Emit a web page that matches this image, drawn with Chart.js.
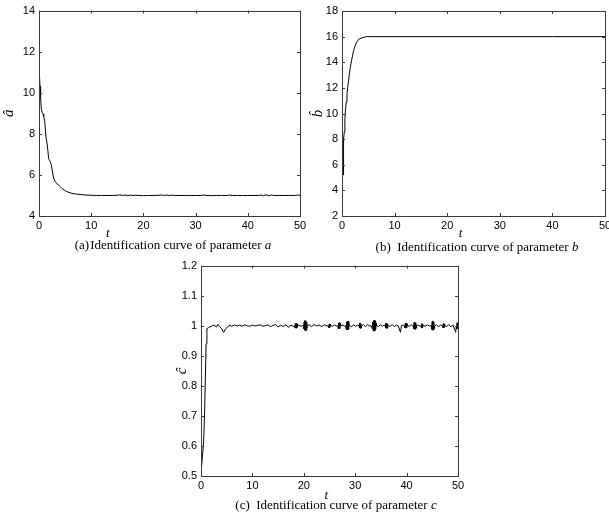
<!DOCTYPE html>
<html>
<head>
<meta charset="utf-8">
<script src="https://cdn.jsdelivr.net/npm/chart.js@4.4.1/dist/chart.umd.min.js"></script>
<style>
html,body{margin:0;padding:0;background:#fff;overflow:hidden;width:609px;height:518px;}
.box{position:absolute;}
.cap{position:absolute;font-family:"Liberation Serif","Times New Roman",serif;font-size:13px;line-height:15px;color:#000;white-space:nowrap;transform:translateX(-50%);}
</style>
</head>
<body>
<div class="box" style="left:0;top:0;width:312px;height:241px"><canvas id="ca"></canvas></div>
<div class="box" style="left:300px;top:0;width:320px;height:241px"><canvas id="cb"></canvas></div>
<div class="box" style="left:150px;top:255px;width:320px;height:248px"><canvas id="cc"></canvas></div>
<div class="cap" style="left:173px;top:237px">(a)&#8202;Identification curve of parameter <i>a</i></div>
<div class="cap" style="left:477px;top:239px">(b)&nbsp; Identification curve of parameter <i>b</i></div>
<div class="cap" style="left:336px;top:497px">(c)&nbsp; Identification curve of parameter <i>c</i></div>
<script>
// ---- tick values and labels ----
const tTicks = [0, 10, 20, 30, 40, 50];
const tTickLabels = ['0', '10', '20', '30', '40', '50'];
const aTicks = [4, 6, 8, 10, 12, 14];
const aTickLabels = ['4', '6', '8', '10', '12', '14'];
const bTicks = [2, 4, 6, 8, 10, 12, 14, 16, 18];
const bTickLabels = ['2', '4', '6', '8', '10', '12', '14', '16', '18'];
const cTicks = [0.5, 0.6, 0.7, 0.8, 0.9, 1, 1.1, 1.2];
const cTickLabels = ['0.5', '0.6', '0.7', '0.8', '0.9', '1', '1.1', '1.2'];

// ---- series: [t, estimate] ----
const aPoints = [
  [0,12.4],[0.05,11.6],[0.1,10.9],[0.2,10.3],[0.3,9.8],[0.45,9.2],[0.6,9.05],[0.77,8.97],[0.9,8.85],[1.1,8.6],
  [1.34,7.84],[1.53,7.55],[1.7,7.2],[1.85,6.78],[2.0,6.72],[2.17,6.63],[2.35,6.5],[2.5,6.25],[2.8,5.85],[3.1,5.68],
  [3.4,5.58],[3.77,5.5],[4.1,5.42],[4.4,5.34],[4.9,5.25],[5.4,5.18],[6.3,5.1],[7.0,5.07],[7.9,5.05],[9.0,5.02],
  [10,5.01],[11,5.0],[12,5.0],[13,5.0],[14,5.0],[15,5.01],[15.5,5.03],[16,5.0],[16.5,5.02],[17,4.99],
  [17.5,5.02],[18,5.0],[18.5,5.01],[19,5.0],[20,4.99],[21,5.0],[22,5.0],[23,5.01],[23.5,5.03],[24,5.0],
  [24.5,5.02],[25,4.99],[25.5,5.02],[26,5.0],[27,5.0],[28,5.0],[29,5.0],[30,5.0],[31,5.0],[31.5,5.02],
  [32,5.0],[33,4.99],[34,5.0],[35,5.0],[36,5.0],[36.5,5.02],[37,5.0],[38,5.0],[39,5.0],[40,5.0],
  [41,5.0],[42,5.0],[42.5,5.02],[43,4.99],[43.5,5.03],[44,4.99],[44.5,5.02],[45,5.0],[46,5.0],[47,5.0],
  [48,5.0],[49,5.0],[49.5,5.02],[50,5.0]
];
const bPoints = [
  [0,3.6],[0.05,4.8],[0.1,6.0],[0.15,5.0],[0.2,5.9],[0.25,5.2],[0.3,6.1],[0.35,8.0],[0.45,8.6],[0.55,9.6],
  [0.65,10.2],[0.8,10.9],[0.95,11.5],[1.1,12.1],[1.26,12.6],[1.4,13.1],[1.58,13.6],[1.8,14.1],[2.0,14.5],[2.2,14.9],
  [2.5,15.3],[2.84,15.6],[3.2,15.8],[3.8,15.9],[4.2,15.95],[4.7,16.0],[5.3,16.0],[6.0,16.0],[7,16.0],[10,16.0],
  [20,16.0],[30,16.0],[40,16.0],[50,16.0]
];
const cPoints = [
  [0,0.5],[0.05,0.52],[0.3,0.57],[0.5,0.61],[0.7,0.71],[0.85,0.83],[1.0,0.94],[1.15,0.99],[1.5,0.994],[2.0,0.998],
  [2.5,1.002],[3.0,0.996],[3.3,1.004],[3.6,0.998],[4.0,0.99],[4.4,0.978],[4.8,0.99],[5.2,0.996],[5.6,1.002],[6.0,0.998],
  [6.5,1.003],[7,0.999],[7.5,1.002],[8,0.998],[8.5,1.003],[9,1.0],[9.5,0.998],[10,1.002],[10.5,0.999],[11,1.001],
  [11.5,1.003],[12,0.998],[12.5,1.0],[13,1.003],[13.5,0.997],[14,1.001],[14.5,1.004],[15,0.996],[15.5,1.002],[16,0.997],
  [16.5,1.003],[17,0.995],[17.5,1.002],[18,0.998],
  [18.2,1.0],[18.28,0.994],[18.36,1.007],[18.44,0.992],[18.52,1.008],[18.6,0.992],[18.68,1.006],[18.76,0.995],[18.84,1.0],
  [19.0,1.002],[19.5,0.998],[19.8,1.001],
  [19.9,1.0],[19.98,0.99],[20.06,1.012],[20.14,0.985],[20.22,1.017],[20.3,0.983],[20.38,1.017],[20.46,0.985],[20.54,1.012],[20.62,0.991],[20.7,1.0],
  [21,1.003],[21.5,0.997],[22,1.004],[22.5,0.999],[23,1.002],[23.5,0.997],[24,1.003],[24.5,0.999],
  [24.8,1.0],[24.88,0.994],[24.96,1.006],[25.04,0.994],[25.12,1.005],[25.2,1.0],
  [25.6,0.998],[26.0,1.003],[26.4,0.999],
  [26.6,1.0],[26.68,0.992],[26.76,1.009],[26.84,0.99],[26.92,1.01],[27.0,0.991],[27.08,1.007],[27.16,1.0],
  [27.6,1.002],[28.0,0.998],
  [28.15,1.0],[28.23,0.99],[28.31,1.012],[28.39,0.986],[28.47,1.015],[28.55,0.986],[28.63,1.014],[28.71,0.989],[28.79,1.009],[28.87,1.0],
  [29.3,0.997],[29.7,1.003],[30.1,0.998],[30.5,1.002],
  [30.75,1.0],[30.83,0.992],[30.91,1.009],[30.99,0.991],[31.07,1.008],[31.15,0.993],[31.23,1.0],
  [31.6,1.003],[32.0,0.997],[32.4,1.004],[32.8,0.999],[33.1,1.0],
  [33.25,1.0],[33.33,0.99],[33.41,1.012],[33.49,0.985],[33.57,1.017],[33.65,0.982],[33.73,1.019],[33.81,0.983],[33.89,1.015],[33.97,0.988],[34.05,1.008],[34.13,1.0],
  [34.5,0.997],[34.9,1.003],[35.3,0.998],[35.6,1.002],
  [35.8,1.0],[35.88,0.993],[35.96,1.008],[36.04,0.991],[36.12,1.009],[36.2,0.992],[36.28,1.006],[36.36,1.0],
  [36.8,0.998],[37.2,1.004],[37.6,0.997],[38.0,1.002],[38.4,0.999],[38.8,0.978],[39.0,1.0],[39.3,1.002],
  [39.6,1.0],[39.68,0.993],[39.76,1.008],[39.84,0.992],[39.92,1.008],[40.0,0.993],[40.08,1.006],[40.16,1.0],
  [40.5,0.998],[40.9,1.003],[41.2,0.999],
  [41.3,1.0],[41.38,0.99],[41.46,1.011],[41.54,0.988],[41.62,1.012],[41.7,0.988],[41.78,1.01],[41.86,0.992],[41.94,1.0],
  [42.3,1.002],[42.6,0.998],
  [42.8,1.0],[42.88,0.993],[42.96,1.007],[43.04,0.993],[43.12,1.006],[43.2,1.0],
  [43.6,0.998],[44.0,1.003],[44.4,0.999],[44.7,1.0],
  [44.8,1.0],[44.88,0.988],[44.96,1.013],[45.04,0.985],[45.12,1.016],[45.2,0.986],[45.28,1.013],[45.36,0.99],[45.44,1.0],
  [45.8,1.003],[46.2,0.997],[46.6,1.002],
  [47.0,1.0],[47.08,0.994],[47.16,1.007],[47.24,0.993],[47.32,1.006],[47.4,1.0],
  [47.8,0.997],[48.2,1.004],[48.6,0.996],[49.0,1.003],[49.4,0.985],[49.55,0.978],[49.7,1.0],
  [49.75,0.99],[49.82,1.01],[49.89,0.99],[49.96,1.009],[50.0,1.0]
];

// MATLAB-style box with inward ticks on all four sides
const matlabFrame = {
  id: 'matlabFrame',
  afterDatasetsDraw(chart) {
    const {ctx, chartArea: a, scales} = chart;
    const x = scales.x, y = scales.y;
    ctx.save();
    ctx.strokeStyle = '#3a3a3a';
    ctx.lineWidth = 1;
    ctx.strokeRect(Math.round(a.left) + 0.5, Math.round(a.top) + 0.5,
                   Math.round(a.right) - Math.round(a.left), Math.round(a.bottom) - Math.round(a.top));
    ctx.beginPath();
    x.ticks.forEach(t => {
      const px = Math.round(x.getPixelForValue(t.value)) + 0.5;
      ctx.moveTo(px, a.bottom); ctx.lineTo(px, a.bottom - 3);
      ctx.moveTo(px, a.top); ctx.lineTo(px, a.top + 3);
    });
    y.ticks.forEach(t => {
      const py = Math.round(y.getPixelForValue(t.value)) + 0.5;
      ctx.moveTo(a.left, py); ctx.lineTo(a.left + 3, py);
      ctx.moveTo(a.right, py); ctx.lineTo(a.right - 3, py);
    });
    ctx.stroke();
    ctx.restore();
  }
};

function makeChart(id, points, yTicks, yLabels, o) {
  return new Chart(document.getElementById(id), {
    type: 'line',
    data: {
      datasets: [{
        data: points.map(p => ({x: p[0], y: p[1]})),
        borderColor: '#000',
        borderWidth: 1,
        pointRadius: 0,
        fill: false,
        tension: 0
      }]
    },
    options: {
      responsive: true,
      maintainAspectRatio: false,
      animation: false,
      events: [],
      layout: {padding: {top: o.padTop, right: o.padRight, left: 0, bottom: 0}},
      plugins: {legend: {display: false}, tooltip: {enabled: false}, title: {display: false}},
      scales: {
        x: {
          type: 'linear', min: 0, max: 50,
          afterBuildTicks: s => { s.ticks = tTicks.map(v => ({value: v})); },
          afterFit: s => { s.height = o.xHeight; },
          grid: {display: false, drawTicks: false},
          border: {display: false},
          ticks: {autoSkip: false, maxRotation: 0, padding: 3, color: '#000',
                  font: {family: '"Liberation Sans", Arial, sans-serif', size: 11},
                  callback: v => tTickLabels[tTicks.indexOf(v)]},
          title: {display: true, text: o.xTitle, color: '#000', padding: {top: 0, bottom: 0},
                  font: {family: '"Liberation Serif", "Times New Roman", serif', size: 13, style: 'italic'}}
        },
        y: {
          type: 'linear', min: yTicks[0], max: yTicks[yTicks.length - 1],
          afterBuildTicks: s => { s.ticks = yTicks.map(v => ({value: v})); },
          afterFit: s => { s.width = o.yWidth; },
          grid: {display: false, drawTicks: false},
          border: {display: false},
          ticks: {autoSkip: false, padding: 4, color: '#000',
                  font: {family: '"Liberation Sans", Arial, sans-serif', size: 11},
                  callback: v => yLabels[yTicks.indexOf(v)]},
          title: {display: true, text: o.yTitle, color: '#000', padding: {top: o.yTitlePad, bottom: 0},
                  font: {family: '"Liberation Serif", "Times New Roman", serif', size: 15, style: 'italic'}}
        }
      }
    },
    plugins: [matlabFrame]
  });
}

makeChart('ca', aPoints, aTicks, aTickLabels,
  {padTop: 9, padRight: 12, yWidth: 39, xHeight: 25, yTitle: '\u00e2', yTitlePad: 0,
   xTitle: 't' + ' '.repeat(38)});
makeChart('cb', bPoints, bTicks, bTickLabels,
  {padTop: 11, padRight: 15, yWidth: 42, xHeight: 25, yTitle: 'b\u0302', yTitlePad: 9,
   xTitle: 't' + ' '.repeat(8)});
makeChart('cc', cPoints, cTicks, cTickLabels,
  {padTop: 8, padRight: 12, yWidth: 51, xHeight: 27, yTitle: '\u0109', yTitlePad: 23,
   xTitle: 't' + ' '.repeat(2)});
</script>
</body>
</html>
